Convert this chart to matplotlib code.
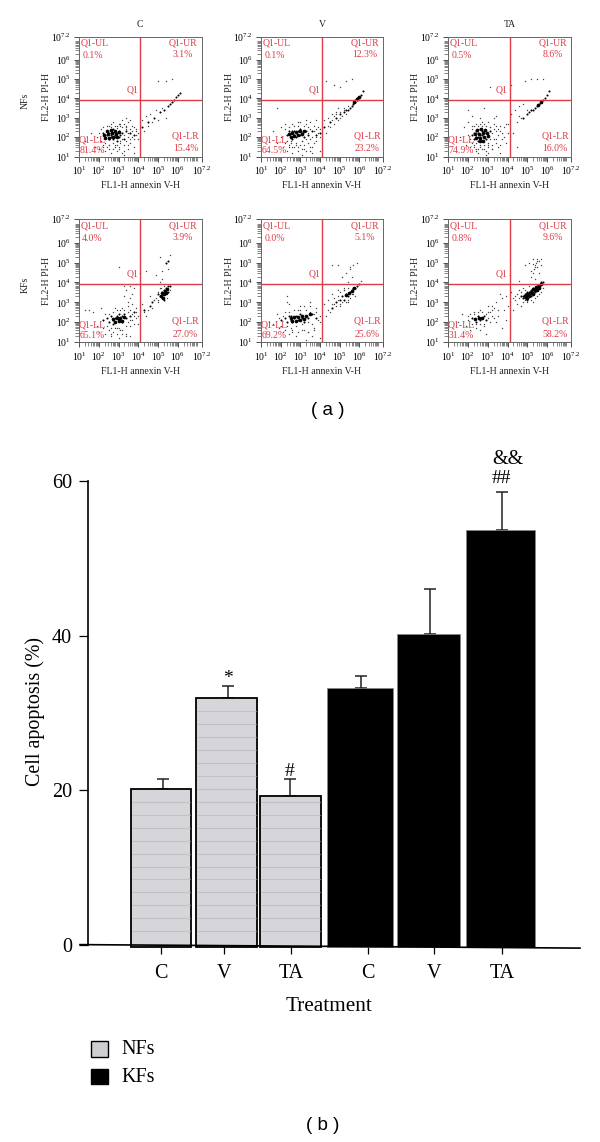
import numpy as np
import matplotlib
matplotlib.use('Agg')
import matplotlib.pyplot as plt
from matplotlib.patches import Rectangle
from matplotlib.ticker import FixedLocator, NullFormatter

plt.rcParams['font.family'] = ['Liberation Serif', 'DejaVu Serif']
plt.rcParams['mathtext.fontset'] = 'custom'
plt.rcParams['mathtext.rm'] = 'Liberation Serif'
plt.rcParams['mathtext.it'] = 'Liberation Serif'

W, H = 600, 1142

# ---- part (b) data
bar_labels = ['C', 'V', 'TA', 'C', 'V', 'TA']
apoptosis = [20.2, 31.9, 19.3, 33.2, 40.2, 53.6]
apoptosis_err = [1.3, 1.6, 2.2, 1.6, 5.8, 5.0]
marks = ['', '*', '#', '', '', '##']

# ---- part (a) data: gate percentages, order UL, UR, LL, LR
plot_rows = ['NFs', 'KFs']
plot_cols = ['C', 'V', 'TA']
pct_nf_c = ['0.1%', '3.1%', '81.4%', '15.4%']
pct_nf_v = ['0.1%', '12.3%', '64.5%', '23.2%']
pct_nf_ta = ['0.5%', '8.6%', '74.9%', '16.0%']
pct_kf_c = ['4.0%', '3.9%', '65.1%', '27.0%']
pct_kf_v = ['0.0%', '5.1%', '69.2%', '25.6%']
pct_kf_ta = ['0.8%', '9.6%', '31.4%', '58.2%']

# events, log10 of FL1 / FL2
# blob = solid black part, core = dark dots, rest + halo = stray dots
nf_c_blob_x = [2.25, 2.45, 2.65, 2.85, 2.3, 2.5, 2.7, 2.9, 2.4, 2.6, 2.8, 3.0]
nf_c_blob_y = [2.1, 2.15, 2.2, 2.15, 1.95, 1.95, 2.0, 2.0, 2.3, 2.35, 2.3, 2.25]
nf_c_core_x = [2.2, 2.3, 2.4, 2.4, 2.5, 2.5, 2.6, 2.6, 2.6, 2.7, 2.7, 2.7, 2.8, 2.8, 2.8, 2.9, 2.9, 3.0, 3.0, 3.1, 3.2, 3.3, 3.4, 3.6, 3.8, 4.2, 4.5, 4.8, 5.1, 5.3, 5.5, 5.6, 5.7, 5.8, 5.9, 6.0, 6.1]
nf_c_core_y = [2.2, 2.0, 2.3, 2.1, 2.2, 1.9, 2.3, 2.1, 2.0, 2.4, 2.2, 1.9, 2.3, 2.1, 2.0, 2.2, 1.8, 2.3, 2.0, 2.1, 2.2, 1.9, 2.3, 2.2, 2.1, 2.5, 2.8, 3.0, 3.3, 3.4, 3.6, 3.7, 3.8, 3.9, 4.1, 4.2, 4.3]
nf_c_rest_x = [1.3, 1.6, 1.8, 1.9, 2.0, 2.1, 2.2, 2.3, 2.4, 2.5, 2.6, 2.7, 2.8, 2.9, 3.0, 3.1, 3.2, 3.3, 3.4, 3.5, 3.5, 3.6, 3.7, 3.8, 3.9, 4.0, 4.2, 4.3, 4.4, 4.5, 4.6, 4.7, 4.9, 5.0, 5.2, 5.4, 5.0, 5.4, 5.7, 3.4, 2.7, 3.1, 3.6, 3.3, 2.5, 2.9, 3.8, 3.2]
nf_c_rest_y = [1.8, 2.2, 1.5, 2.0, 1.4, 2.4, 1.6, 1.3, 1.5, 1.6, 1.2, 1.4, 1.6, 1.3, 1.5, 1.7, 1.2, 1.6, 2.6, 1.4, 2.0, 1.7, 2.6, 1.5, 2.4, 1.9, 2.9, 2.3, 3.1, 2.6, 3.2, 2.8, 3.4, 2.9, 3.5, 3.0, 4.9, 4.9, 5.0, 3.0, 2.8, 2.7, 2.9, 1.1, 2.6, 2.6, 1.2, 2.9]
nf_c_halo_x = [2.0, 2.1, 2.2, 2.3, 2.4, 2.5, 2.6, 2.7, 2.8, 2.9, 3.0, 3.1, 3.2, 3.2, 3.3, 3.3, 3.4, 3.4, 3.5, 3.5, 3.6, 3.6, 3.7, 3.7, 3.8, 3.8, 3.9, 3.9, 4.0, 2.2, 2.5, 2.8, 3.0, 3.3, 3.5, 2.6, 2.9, 3.1, 3.4, 3.6]
nf_c_halo_y = [2.2, 1.8, 2.5, 1.7, 2.6, 1.6, 2.7, 1.7, 2.6, 1.6, 2.7, 1.8, 2.5, 1.9, 2.7, 2.1, 1.8, 2.5, 2.2, 2.8, 1.9, 2.4, 2.0, 2.3, 1.9, 2.5, 2.1, 2.3, 2.2, 1.5, 1.4, 1.5, 1.4, 1.3, 1.6, 2.5, 2.45, 2.6, 2.4, 2.2]

nf_v_blob_x = [2.4, 2.6, 2.8, 3.0, 3.2, 2.5, 2.7, 2.9, 3.1, 5.75, 5.9, 6.0]
nf_v_blob_y = [2.15, 2.2, 2.25, 2.3, 2.3, 2.0, 2.05, 2.1, 2.15, 3.8, 3.95, 4.1]
nf_v_core_x = [2.3, 2.4, 2.5, 2.5, 2.6, 2.6, 2.7, 2.7, 2.8, 2.8, 2.9, 3.0, 3.0, 3.1, 3.2, 3.3, 3.4, 3.6, 3.8, 4.0, 4.2, 4.5, 4.8, 5.0, 5.2, 5.3, 5.4, 5.5, 5.6, 5.7, 5.8, 5.8, 5.9, 5.9, 6.0, 6.1, 6.2]
nf_v_core_y = [2.1, 2.3, 2.0, 2.2, 2.3, 1.9, 2.1, 2.3, 2.2, 2.0, 2.3, 2.1, 2.4, 2.2, 2.0, 2.3, 2.1, 2.3, 2.1, 2.2, 2.5, 2.8, 3.0, 3.2, 3.3, 3.4, 3.4, 3.5, 3.6, 3.7, 3.8, 3.9, 3.9, 4.0, 4.1, 4.2, 4.4]
nf_v_rest_x = [1.6, 1.8, 2.0, 2.1, 2.2, 2.3, 2.4, 2.5, 2.6, 2.7, 2.8, 2.9, 3.0, 3.1, 3.2, 3.3, 3.4, 3.5, 3.6, 3.7, 3.8, 3.9, 4.0, 4.0, 4.2, 4.3, 4.4, 4.5, 4.6, 4.7, 4.8, 5.0, 4.3, 4.7, 5.0, 5.3, 5.6, 1.8, 2.9, 3.3, 3.6, 3.1, 2.6, 2.2, 3.8, 3.0, 3.5, 4.9]
nf_v_rest_y = [2.3, 1.7, 2.5, 1.5, 1.7, 1.3, 1.5, 1.7, 1.2, 1.5, 1.6, 1.3, 1.6, 1.8, 1.4, 2.7, 1.7, 2.8, 1.5, 2.6, 1.8, 2.5, 2.0, 1.3, 2.9, 2.2, 3.0, 2.5, 3.2, 2.7, 3.3, 3.0, 4.9, 4.7, 4.6, 4.9, 5.0, 3.5, 2.8, 2.9, 1.2, 1.1, 2.7, 2.7, 2.9, 2.8, 1.3, 3.5]
nf_v_halo_x = [2.0, 2.2, 2.3, 2.4, 2.5, 2.7, 2.8, 2.9, 3.1, 3.2, 3.3, 3.4, 3.4, 3.5, 3.5, 3.6, 3.7, 3.8, 3.8, 3.9, 4.0, 4.4, 4.6, 4.7, 4.9, 5.0, 5.1, 5.2, 5.3, 5.4, 2.6, 2.9, 3.2, 3.5, 3.7, 2.4, 3.1, 3.3, 4.8, 5.2]
nf_v_halo_y = [2.0, 2.4, 1.8, 2.5, 1.8, 2.6, 1.7, 2.6, 1.8, 2.6, 1.9, 2.2, 2.5, 1.9, 2.4, 2.0, 2.3, 2.0, 2.4, 2.2, 2.4, 2.6, 2.9, 3.1, 2.9, 3.3, 3.1, 3.4, 3.2, 3.6, 1.5, 1.5, 1.6, 1.5, 1.7, 1.6, 1.4, 1.3, 3.2, 3.5]

nf_ta_blob_x = [2.35, 2.55, 2.75, 2.95, 2.4, 2.6, 2.8, 3.0, 2.45, 2.65, 2.85, 2.6, 2.75, 5.55, 5.7]
nf_ta_blob_y = [2.15, 2.15, 2.2, 2.2, 1.95, 1.95, 2.0, 2.05, 2.35, 2.4, 2.35, 1.8, 1.8, 3.65, 3.8]
nf_ta_core_x = [2.2, 2.3, 2.3, 2.4, 2.4, 2.5, 2.5, 2.5, 2.6, 2.6, 2.6, 2.7, 2.7, 2.7, 2.8, 2.8, 2.9, 2.9, 3.0, 3.1, 4.8, 5.0, 5.1, 5.2, 5.3, 5.4, 5.5, 5.6, 5.7, 5.8, 5.9, 6.0, 6.1]
nf_ta_core_y = [2.1, 2.2, 1.9, 2.3, 2.0, 2.2, 2.0, 1.8, 2.4, 2.1, 1.9, 2.3, 2.1, 1.8, 2.3, 2.0, 2.2, 1.9, 2.1, 2.3, 3.0, 3.2, 3.3, 3.4, 3.4, 3.5, 3.6, 3.7, 3.8, 3.9, 4.0, 4.2, 4.4]
nf_ta_rest_x = [1.6, 1.8, 1.9, 2.0, 2.1, 2.2, 2.3, 2.4, 2.4, 2.5, 2.6, 2.7, 2.8, 2.9, 3.0, 3.0, 3.1, 3.2, 3.3, 3.4, 3.5, 3.6, 3.7, 3.8, 3.9, 4.0, 4.2, 4.4, 4.5, 4.6, 4.7, 4.8, 2.0, 3.1, 4.2, 4.9, 5.2, 5.5, 5.8, 3.3, 2.6, 2.2, 3.6, 4.3, 3.0, 2.8, 3.4, 4.5]
nf_ta_rest_y = [2.0, 2.5, 1.6, 2.8, 1.5, 2.6, 1.6, 1.4, 2.7, 1.2, 1.5, 2.8, 1.4, 1.1, 2.8, 1.6, 2.5, 1.4, 2.7, 1.9, 2.4, 1.6, 2.2, 2.5, 1.7, 2.7, 3.2, 3.4, 2.8, 3.6, 3.0, 3.7, 3.4, 4.6, 4.7, 4.9, 5.0, 5.0, 5.0, 3.0, 3.0, 3.1, 1.2, 2.2, 1.2, 3.5, 3.1, 1.5]
nf_ta_halo_x = [2.0, 2.1, 2.2, 2.2, 2.3, 2.3, 2.4, 2.5, 2.6, 2.7, 2.8, 2.9, 3.0, 3.1, 3.1, 3.2, 3.2, 3.3, 3.3, 3.4, 3.4, 3.5, 3.5, 3.6, 3.7, 2.5, 2.7, 2.9, 3.0, 3.2, 2.4, 2.6, 2.8, 3.4, 3.6, 3.8, 4.0, 3.9, 4.6, 5.0]
nf_ta_halo_y = [2.1, 1.9, 2.4, 1.7, 2.6, 1.5, 1.7, 2.6, 1.6, 2.6, 1.6, 2.6, 1.7, 2.5, 1.9, 2.2, 1.6, 2.4, 1.9, 2.6, 1.7, 2.1, 1.5, 2.3, 1.9, 1.4, 1.4, 1.3, 1.5, 1.4, 1.3, 2.7, 2.7, 2.3, 2.6, 2.0, 2.2, 2.7, 3.1, 3.4]

kf_c_blob_x = [2.7, 2.9, 3.1, 3.3, 2.8, 3.0, 3.2, 5.15, 5.25, 5.3, 5.35, 5.4, 5.45, 5.2]
kf_c_blob_y = [2.15, 2.2, 2.2, 2.25, 2.0, 2.05, 2.05, 3.3, 3.2, 3.4, 3.55, 3.45, 3.65, 3.45]
kf_c_core_x = [2.2, 2.4, 2.5, 2.6, 2.7, 2.7, 2.8, 2.9, 3.0, 3.0, 3.1, 3.2, 3.2, 3.3, 3.4, 3.6, 3.8, 4.3, 4.6, 4.7, 5.0, 5.1, 5.2, 5.2, 5.3, 5.3, 5.3, 5.4, 5.4, 5.5, 5.5, 5.6, 5.4, 5.5]
kf_c_core_y = [2.1, 2.2, 2.0, 2.3, 2.1, 1.9, 2.2, 2.3, 2.1, 2.4, 2.2, 2.3, 2.0, 2.4, 2.2, 2.3, 2.5, 2.6, 2.8, 3.0, 3.4, 3.3, 3.5, 3.2, 3.4, 3.6, 3.1, 3.5, 3.7, 3.5, 3.8, 3.8, 5.0, 5.1]
kf_c_rest_x = [1.3, 1.5, 1.7, 1.9, 2.0, 2.2, 2.3, 2.5, 2.6, 2.7, 2.9, 3.0, 3.1, 3.2, 3.4, 3.5, 3.6, 3.7, 3.9, 4.0, 4.2, 4.4, 4.6, 4.8, 5.0, 3.3, 3.4, 3.5, 3.6, 3.7, 3.8, 3.9, 3.6, 3.3, 4.9, 5.1, 5.2, 5.2, 5.3, 5.5, 5.6, 5.1, 4.4, 4.1, 2.1, 2.8, 3.6, 3.0]
kf_c_rest_y = [2.6, 2.6, 2.5, 1.8, 1.5, 1.7, 1.4, 1.6, 1.3, 1.5, 1.7, 1.2, 1.6, 2.7, 1.4, 2.8, 1.8, 2.9, 2.2, 1.9, 2.9, 2.3, 3.3, 3.1, 3.0, 3.3, 3.6, 3.0, 3.8, 3.4, 3.7, 3.9, 3.2, 3.8, 4.4, 4.0, 4.6, 4.2, 3.9, 4.7, 5.4, 5.3, 4.6, 4.5, 2.7, 2.7, 1.3, 4.8]
kf_c_halo_x = [2.3, 2.4, 2.5, 2.6, 2.7, 2.8, 2.9, 3.0, 3.1, 3.2, 3.3, 3.4, 3.5, 3.5, 3.6, 3.7, 3.7, 3.8, 3.8, 3.9, 4.0, 4.1, 4.3, 4.5, 4.7, 4.8, 4.9, 5.0, 5.1, 3.4, 3.6, 3.2, 2.9, 2.6, 3.9, 5.0, 5.15, 5.3, 5.45, 5.6]
kf_c_halo_y = [2.4, 1.8, 2.4, 1.7, 2.5, 1.7, 2.6, 1.7, 2.6, 1.6, 2.6, 1.8, 2.5, 2.0, 2.6, 2.1, 2.4, 1.9, 2.3, 2.5, 2.3, 2.6, 2.5, 2.6, 2.7, 3.1, 3.2, 3.5, 3.7, 1.3, 2.1, 1.4, 1.4, 1.4, 2.7, 3.1, 3.7, 3.8, 3.2, 3.6]

kf_v_blob_x = [2.5, 2.7, 2.9, 3.1, 3.3, 2.6, 2.8, 3.0, 3.2, 3.5, 5.3, 5.45, 5.6, 5.75]
kf_v_blob_y = [2.2, 2.25, 2.25, 2.3, 2.3, 2.05, 2.05, 2.1, 2.15, 2.4, 3.35, 3.45, 3.55, 3.7]
kf_v_core_x = [2.0, 2.2, 2.3, 2.4, 2.5, 2.5, 2.6, 2.7, 2.8, 2.9, 3.0, 3.1, 3.2, 3.3, 3.4, 3.6, 3.8, 4.6, 4.8, 5.0, 5.1, 5.2, 5.3, 5.4, 5.5, 5.6, 5.7, 5.8, 5.9, 6.0]
kf_v_core_y = [2.1, 2.2, 2.0, 2.3, 2.1, 2.3, 2.0, 2.2, 2.3, 2.1, 2.4, 2.2, 2.0, 2.3, 2.2, 2.4, 2.2, 2.7, 3.0, 3.1, 3.3, 3.1, 3.4, 3.3, 3.5, 3.6, 3.7, 3.7, 3.8, 3.9]
kf_v_rest_x = [1.4, 1.6, 1.8, 1.9, 2.1, 2.2, 2.4, 2.6, 2.8, 2.9, 3.1, 3.2, 3.4, 3.5, 3.7, 3.8, 4.0, 4.2, 4.3, 4.4, 4.5, 4.6, 4.7, 4.9, 5.0, 5.2, 5.4, 5.6, 5.8, 6.1, 4.6, 4.9, 5.1, 5.3, 5.5, 5.7, 5.9, 5.4, 5.6, 2.3, 2.3, 2.4, 3.0, 3.3, 3.6, 4.0, 3.5, 5.5]
kf_v_rest_y = [2.0, 1.9, 2.4, 1.7, 1.5, 2.5, 1.4, 1.6, 1.3, 2.6, 1.6, 2.8, 1.5, 2.8, 1.7, 2.7, 1.2, 2.9, 2.3, 3.1, 2.5, 3.4, 2.9, 3.6, 2.8, 3.7, 3.0, 3.4, 3.3, 4.1, 4.9, 4.9, 4.3, 4.5, 4.8, 4.9, 5.0, 4.0, 4.3, 3.0, 3.3, 2.9, 2.8, 1.1, 1.3, 2.0, 3.0, 4.7]
kf_v_halo_x = [1.9, 2.0, 2.1, 2.3, 2.4, 2.5, 2.7, 2.8, 3.0, 3.1, 3.3, 3.4, 3.5, 3.6, 3.7, 3.8, 3.9, 4.0, 4.4, 4.6, 4.7, 4.8, 4.9, 5.0, 5.0, 5.1, 5.2, 5.3, 5.4, 5.5, 2.6, 2.9, 3.2, 3.4, 2.2, 3.7, 4.9, 5.2, 5.4, 5.7]
kf_v_halo_y = [2.2, 1.8, 2.3, 1.8, 2.5, 1.7, 2.6, 1.8, 2.6, 1.9, 2.6, 2.0, 2.5, 1.9, 2.4, 2.5, 2.1, 2.3, 2.6, 2.9, 3.2, 2.8, 3.3, 2.9, 3.5, 3.0, 3.6, 3.0, 3.7, 3.2, 1.5, 1.5, 1.6, 1.5, 1.6, 1.6, 3.1, 3.6, 3.1, 3.4]

kf_ta_blob_x = [4.9, 5.0, 5.1, 5.2, 5.3, 5.4, 5.5, 5.6, 5.7, 5.0, 5.15, 5.3, 5.45, 5.6, 2.35, 2.55, 2.7]
kf_ta_blob_y = [3.3, 3.4, 3.3, 3.5, 3.4, 3.6, 3.6, 3.8, 3.9, 3.2, 3.45, 3.65, 3.75, 3.7, 2.15, 2.2, 2.2]
kf_ta_core_x = [2.2, 2.4, 2.5, 2.6, 2.7, 2.8, 2.9, 4.7, 4.8, 4.9, 4.9, 5.0, 5.0, 5.1, 5.1, 5.2, 5.2, 5.3, 5.3, 5.4, 5.4, 5.5, 5.5, 5.6, 5.6, 5.7, 5.7, 5.8, 4.8, 5.0, 5.2]
kf_ta_core_y = [2.2, 2.0, 2.3, 2.1, 2.2, 2.3, 2.1, 3.3, 3.3, 3.4, 3.2, 3.5, 3.3, 3.5, 3.3, 3.6, 3.4, 3.7, 3.5, 3.7, 3.5, 3.8, 3.6, 3.8, 3.7, 3.9, 4.0, 4.0, 3.2, 3.1, 3.3]
kf_ta_rest_x = [1.5, 1.7, 1.9, 2.0, 2.1, 2.3, 2.4, 2.6, 2.8, 3.0, 3.1, 3.2, 3.3, 3.4, 3.5, 3.6, 3.8, 3.9, 4.0, 4.1, 4.2, 4.3, 4.4, 4.5, 4.6, 5.1, 5.2, 5.3, 5.4, 5.5, 5.6, 5.7, 5.2, 5.4, 5.5, 5.7, 4.6, 4.9, 2.6, 3.7, 3.4, 2.9, 3.2, 3.9, 3.0, 4.1, 4.7, 5.3]
kf_ta_rest_y = [2.0, 2.4, 1.8, 2.3, 1.6, 2.5, 1.7, 2.6, 1.8, 2.5, 2.0, 2.8, 2.2, 3.0, 2.3, 3.4, 2.6, 3.3, 2.8, 3.0, 3.5, 2.6, 3.1, 2.9, 3.6, 5.0, 4.6, 5.2, 4.9, 5.1, 4.5, 5.2, 4.3, 4.2, 4.8, 4.9, 4.1, 4.9, 1.6, 1.7, 2.0, 1.4, 2.6, 2.1, 2.8, 4.4, 2.8, 4.5]
kf_ta_halo_x = [2.0, 2.1, 2.2, 2.3, 2.4, 2.5, 2.6, 2.7, 2.8, 2.9, 3.0, 3.1, 3.2, 3.3, 3.5, 4.6, 4.7, 4.8, 4.8, 4.9, 4.9, 5.0, 5.1, 5.2, 5.3, 5.4, 5.5, 5.6, 5.7, 5.8, 5.3, 5.4, 5.5, 5.45, 5.6, 5.35, 4.5, 4.4, 4.3, 3.7]
kf_ta_halo_y = [2.1, 2.4, 1.9, 2.4, 1.9, 2.5, 1.9, 2.5, 1.9, 2.4, 2.2, 2.5, 2.3, 2.7, 2.6, 3.2, 3.5, 3.0, 3.7, 3.1, 3.6, 3.0, 3.8, 3.1, 3.0, 3.2, 3.3, 3.4, 3.5, 3.7, 4.95, 4.8, 5.2, 5.0, 5.1, 4.7, 3.4, 3.3, 3.2, 3.2]

panels = [
    [(pct_nf_c, nf_c_blob_x, nf_c_blob_y, nf_c_core_x, nf_c_core_y, nf_c_rest_x + nf_c_halo_x, nf_c_rest_y + nf_c_halo_y),
     (pct_nf_v, nf_v_blob_x, nf_v_blob_y, nf_v_core_x, nf_v_core_y, nf_v_rest_x + nf_v_halo_x, nf_v_rest_y + nf_v_halo_y),
     (pct_nf_ta, nf_ta_blob_x, nf_ta_blob_y, nf_ta_core_x, nf_ta_core_y, nf_ta_rest_x + nf_ta_halo_x, nf_ta_rest_y + nf_ta_halo_y)],
    [(pct_kf_c, kf_c_blob_x, kf_c_blob_y, kf_c_core_x, kf_c_core_y, kf_c_rest_x + kf_c_halo_x, kf_c_rest_y + kf_c_halo_y),
     (pct_kf_v, kf_v_blob_x, kf_v_blob_y, kf_v_core_x, kf_v_core_y, kf_v_rest_x + kf_v_halo_x, kf_v_rest_y + kf_v_halo_y),
     (pct_kf_ta, kf_ta_blob_x, kf_ta_blob_y, kf_ta_core_x, kf_ta_core_y, kf_ta_rest_x + kf_ta_halo_x, kf_ta_rest_y + kf_ta_halo_y)],
]

RED = '#dc3c48'
SMALL = 7
tick_vals = [1e1, 1e2, 1e3, 1e4, 1e5, 1e6, 10**7.2]
tick_txt = ['$\\mathregular{10^{1}}$', '$\\mathregular{10^{2}}$', '$\\mathregular{10^{3}}$',
            '$\\mathregular{10^{4}}$', '$\\mathregular{10^{5}}$', '$\\mathregular{10^{6}}$',
            '$\\mathregular{10^{7.2}}$']
minor_vals = [m * 10**d for d in range(1, 7) for m in range(2, 10)]


def px_axes(left, top, right, bottom):
    return fig.add_axes([left / W, 1 - bottom / H, (right - left) / W, (bottom - top) / H])


def dot_plot(ax, pct, blob_x, blob_y, core_x, core_y, rest_x, rest_y):
    ax.set_xscale('log')
    ax.set_yscale('log')
    ax.set_xlim(1e1, 10**7.2)
    ax.set_ylim(1e1, 10**7.2)
    ax.scatter(10 ** np.array(rest_x), 10 ** np.array(rest_y), s=1.0, c='#444444', linewidths=0)
    ax.scatter(10 ** np.array(core_x), 10 ** np.array(core_y), s=2.2, c='black', linewidths=0)
    ax.scatter(10 ** np.array(blob_x), 10 ** np.array(blob_y), s=7, c='black', linewidths=0)
    ax.axvline(10**4.1, color=RED, lw=1.0)
    ax.axhline(10**3.93, color=RED, lw=1.0)
    for axis in (ax.xaxis, ax.yaxis):
        axis.set_major_locator(FixedLocator(tick_vals))
        axis.set_minor_locator(FixedLocator(minor_vals))
        axis.set_minor_formatter(NullFormatter())
    ax.set_xticklabels(tick_txt)
    ax.set_yticklabels(tick_txt)
    ax.tick_params(which='major', length=3.5, width=0.6, color='#333333', labelsize=SMALL, pad=2.5)
    ax.tick_params(which='minor', length=3, width=0.5, color='#555555')
    for sp in ax.spines.values():
        sp.set_linewidth(0.7)
        sp.set_color('#666666')
    ax.set_xlabel('FL1-H annexin V-H', fontsize=SMALL, color='#222222')
    ax.set_ylabel('FL2-H PI-H', fontsize=SMALL, color='#222222')
    ax.xaxis.set_label_coords(0.5, -0.2)
    ax.yaxis.set_label_coords(-0.225, 0.5)
    labels = [(0.125, 0.945, 'Q1-UL'), (0.85, 0.945, 'Q1-UR'), (0.435, 0.55, 'Q1'),
              (0.11, 0.135, 'Q1-LL'), (0.87, 0.17, 'Q1-LR'),
              (0.11, 0.84, pct[0]), (0.85, 0.85, pct[1]), (0.11, 0.05, pct[2]), (0.87, 0.065, pct[3])]
    for lx, ly, s in labels:
        ax.text(lx, ly, s, transform=ax.transAxes, color=RED, fontsize=SMALL, ha='center', va='center')


fig = plt.figure(figsize=(W / 100, H / 100), dpi=100, facecolor='white')

col_edges = [(79, 201.5), (261, 383), (448, 571)]
row_edges = [(36.5, 156.5), (219, 342)]
for r, (top, bottom) in enumerate(row_edges):
    for c, (left, right) in enumerate(col_edges):
        ax = px_axes(left, top, right, bottom)
        dot_plot(ax, *panels[r][c])
        if r == 0:
            ax.set_title(plot_cols[c], fontsize=SMALL, pad=7, color='#222222')
    fig.text(25 / W, 1 - (top + bottom + 8) / 2 / H, plot_rows[r], rotation=90, fontsize=SMALL,
             ha='center', va='center', color='#222222')

# ---- part (b), x units are pixels because the bars are not evenly spaced in the original
bar_left = [131, 196, 260, 327, 397, 465.5]
bar_right = [191, 257, 321, 392.5, 460, 535]
err_x = [163, 228, 290, 361, 430, 501.5]
tick_x = [161, 224, 291, 368, 434, 502]
mark_gap = [1.0, 1.0, 1.0, 1.0, 1.0, 1.7]
colors = ['#d6d6da'] * 3 + ['black'] * 3

ax = px_axes(80, 481, 590, 945)
ax.set_xlim(80, 590)
ax.set_ylim(0, 60)
for sp in ('top', 'right', 'bottom'):
    ax.spines[sp].set_visible(False)
ax.spines['left'].set_position(('data', 88))
ax.spines['left'].set_linewidth(1.2)

BASE = -0.25
stripes = np.arange(1.75, 32, 1.68)
for i in range(6):
    left, right = bar_left[i], bar_right[i]
    ax.bar(left, apoptosis[i] - BASE, right - left, bottom=BASE, align='edge', color=colors[i],
           edgecolor='black' if i < 3 else '#888888', linewidth=1.3 if i < 3 else 0.5, clip_on=False, zorder=2)
    ax.errorbar(err_x[i], apoptosis[i], yerr=[[0], [apoptosis_err[i]]], color='#222222', elinewidth=1.1,
                capsize=4.5, capthick=1.1, zorder=1)
    if i < 3:
        keep = stripes[stripes < apoptosis[i] - 0.5]
        ax.hlines(keep, left + 1, right - 1, color='#c2c2c6', lw=0.8, zorder=3)
    if marks[i]:
        ax.text(err_x[i], apoptosis[i] + apoptosis_err[i] + mark_gap[i], marks[i], fontsize=14,
                ha='center', va='center', clip_on=False)
ax.text(err_x[5] + 6, 62.8, '&&', fontsize=14.5, ha='center', va='center')
ax.plot([80, 580], [0.05, -0.4], color='black', lw=1.2, clip_on=False, zorder=4)

ax.set_yticks([0, 20, 40, 60])
ax.set_xticks(tick_x)
ax.set_xticklabels(bar_labels)
ax.tick_params(axis='y', length=6.5, width=0.9, labelsize=14.5, pad=5)
ax.tick_params(axis='x', length=6.5, width=0.9, labelsize=14.5, pad=7)
ax.set_ylabel('Cell apoptosis (%)', fontsize=14.4)
ax.yaxis.set_label_coords(-0.068, 0.504)
ax.set_xlabel('Treatment', fontsize=15.3)
ax.xaxis.set_label_coords((329 - 80) / 510, -0.112)

# legend
for y0, y1, fc in [(1041, 1057, '#cfcfd2'), (1069, 1084, 'black')]:
    fig.add_artist(Rectangle((91 / W, 1 - y1 / H), 17 / W, (y1 - y0) / H, transform=fig.transFigure,
                             facecolor=fc, edgecolor='black', linewidth=1.0))
fig.text(121 / W, 1 - 1050 / H, 'NFs', fontsize=14.5, va='center')
fig.text(121 / W, 1 - 1078 / H, 'KFs', fontsize=14.5, va='center')

# sub figure captions
fig.text(328 / W, 1 - 410 / H, '( a )', family='Liberation Sans', fontsize=13.5, ha='center', va='center')
fig.text(323 / W, 1 - 1125 / H, '( b )', family='Liberation Sans', fontsize=13.5, ha='center', va='center')

fig.savefig('out.png', dpi=100)
